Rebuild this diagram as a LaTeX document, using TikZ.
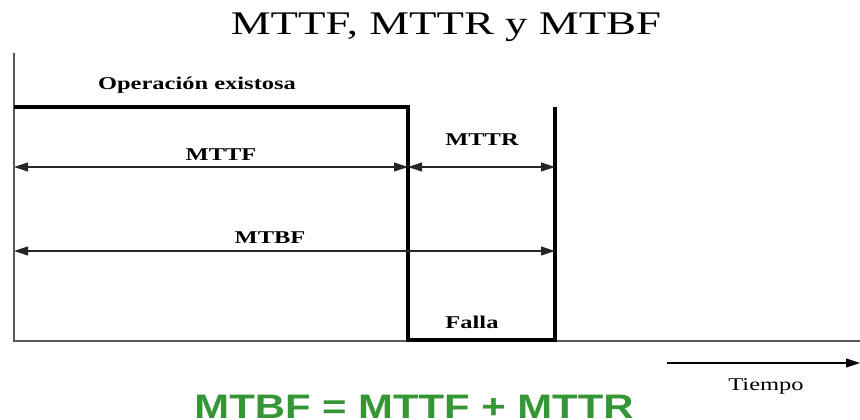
\documentclass[tikz,border=0pt]{standalone}
\usepackage{fontspec}
\setmainfont{Liberation Serif}[FakeStretch=1.36]
\newfontfamily\formfont{Liberation Sans}[FakeStretch=1.23]
\usetikzlibrary{arrows.meta}
\definecolor{formgreen}{RGB}{52,150,52}
\begin{document}
\begin{tikzpicture}[x=1pt,y=-1pt,
  axisline/.style={line width=1.4pt,draw=black!65},
  signal/.style={line width=3.6pt},
  dim/.style={line width=1.1pt,draw=black!85,{Triangle[length=14pt,width=9pt]}-{Triangle[length=14pt,width=9pt]}},
  lbl/.style={anchor=base,inner sep=0pt,font=\fontsize{18}{20}\selectfont\bfseries},
  titlefont/.style={anchor=base,inner sep=0pt,font=\fontsize{33}{36}\selectfont}]
\useasboundingbox[fill=white] (0,0) rectangle (860,420);
% coordinates
\coordinate (axtop) at (14,53);
\coordinate (origin) at (14,341);
\coordinate (axend) at (860,341);
\coordinate (s0) at (14,107);
\coordinate (s1) at (408,107);
\coordinate (s2) at (408,340);
\coordinate (s3) at (555,340);
\coordinate (s4) at (555,107);
\coordinate (a1) at (14,167);
\coordinate (a2) at (408,167);
\coordinate (a3) at (555,167);
\coordinate (b1) at (14,251);
\coordinate (b2) at (555,251);
\coordinate (t1) at (667,363);
\coordinate (t2) at (860,363);
% axes
\draw[axisline] (axtop) -- (origin) -- (axend);
% signal
\draw[signal] (s0) -- (s1) -- (s2) -- (s3) -- (s4);
% dimensions
\draw[dim] (a1) -- (a2);
\draw[dim] (a2) -- (a3);
\draw[dim] (b1) -- (b2);
\draw[line width=1.1pt,-{Triangle[length=14pt,width=9pt]}] (t1) -- (t2);
% labels
\node[titlefont] (title) at (446,35) {MTTF, MTTR y MTBF};
\node[lbl] (op) at (197,89) {Operación existosa};
\node[lbl] (mttf) at (221,160) {MTTF};
\node[lbl] (mttr) at (482,145) {MTTR};
\node[lbl] (mtbf) at (270,243) {MTBF};
\node[lbl] (falla) at (472,328) {Falla};
\node[anchor=base,inner sep=0pt,font=\fontsize{18}{20}\selectfont] (tiempo) at (766,390) {Tiempo};
\node[anchor=base,inner sep=0pt,text=formgreen,font=\formfont\fontsize{34}{36}\selectfont\bfseries] (formula) at (414,418) {MTBF = MTTF + MTTR};
\end{tikzpicture}
\end{document}
